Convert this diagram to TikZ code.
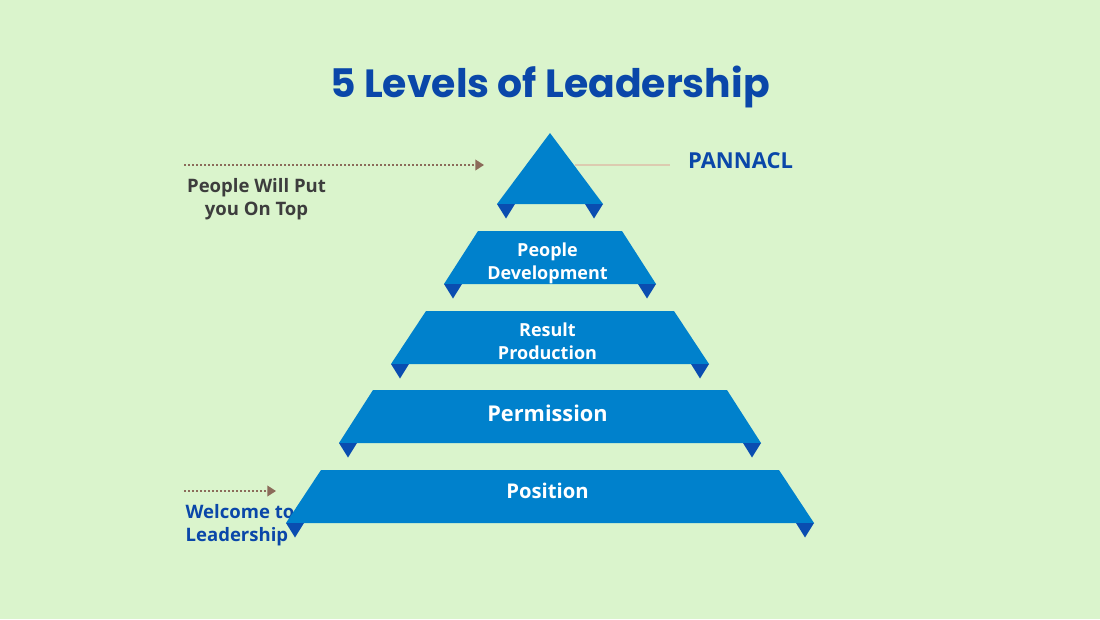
\documentclass[tikz,border=0pt]{standalone}
\usepackage{fontspec}
\setmainfont{Open Sans}
\newfontfamily\titlefont{Poppins}
\usetikzlibrary{arrows.meta}
\definecolor{bgcol}{HTML}{DAF4CC}
\definecolor{levelcol}{HTML}{0081CC}
\definecolor{foldcol}{HTML}{0A4DB0}
\definecolor{headcol}{HTML}{0A47A9}
\definecolor{greycol}{HTML}{3D3D3D}
\definecolor{dotcol}{HTML}{8B6B5A}
\definecolor{linecol}{HTML}{DCCBB0}
\tikzset{
  level/.style={fill=levelcol},
  fold/.style={fill=foldcol},
  inlabel/.style={text=white,font=\bfseries\fontsize{13.5pt}{17.4pt}\selectfont,align=center},
  sidelabel/.style={font=\bfseries\fontsize{13.9pt}{17.4pt}\selectfont,align=center},
  pointer/.style={dotcol,line width=1.2pt,dash pattern=on 1.2pt off 1.8pt,-{Triangle[length=6.5pt,width=8pt]}}
}
\begin{document}
\begin{tikzpicture}[x=0.75pt,y=-0.75pt]
\useasboundingbox (0,0) rectangle (1100,619);
\fill[bgcol] (0,0) rectangle (1100,619);
\node[text=headcol] (title) at (550,87) {\titlefont\bfseries\fontsize{29.5pt}{36pt}\selectfont 5 Levels of Leadership};
% side labels
\node[sidelabel,text=greycol] (toplabel) at (256.5,199.5) {People Will Put\\you On Top};
\node[sidelabel,text=headcol,align=left] (startlabel) at (240,525) {Welcome to\\Leadership};
\node[text=headcol,font=\bfseries\fontsize{16.5pt}{17pt}\selectfont] (pannacl) at (740.5,161) {PANNACL};
% pointers
\coordinate (topstart) at (184,165);
\coordinate (topend) at (484,165);
\coordinate (startstart) at (184,491);
\coordinate (startend) at (276,491);
\coordinate (linestart) at (575,165);
\coordinate (lineend) at (670,165);
\draw[pointer] (topstart) -- (topend);
\draw[pointer] (startstart) -- (startend);
\draw[linecol,line width=1pt] (linestart) -- (lineend);
% pyramid
\fill[level] (550,133)--(603,204)--(497,204)--cycle;
\fill[level] (478,231)--(622,231)--(656,284)--(444,284)--cycle;
\fill[level] (426,311)--(674,311)--(709,364)--(391,364)--cycle;
\fill[level] (373,390)--(727,390)--(761,443)--(339,443)--cycle;
\fill[level] (321,470)--(779,470)--(814,523)--(286,523)--cycle;
% folds
\foreach \a/\b/\y in {497/603/204,444/656/284,391/709/364,339/761/443,286/814/523}{
  \fill[fold] (\a,\y)--(\a+18,\y)--(\a+9,\y+14.5)--cycle;
  \fill[fold] (\b,\y)--(\b-18,\y)--(\b-9,\y+14.5)--cycle;
}
% level names
\node[inlabel] (people) at (547.5,263.5) {People\\Development};
\node[inlabel] (result) at (547.5,341) {Result\\Production};
\node[inlabel,font=\bfseries\fontsize{16.3pt}{19pt}\selectfont] (permission) at (547.5,413) {Permission};
\node[inlabel,font=\bfseries\fontsize{15.2pt}{19pt}\selectfont] (position) at (547.5,491) {Position};
\end{tikzpicture}
\end{document}
